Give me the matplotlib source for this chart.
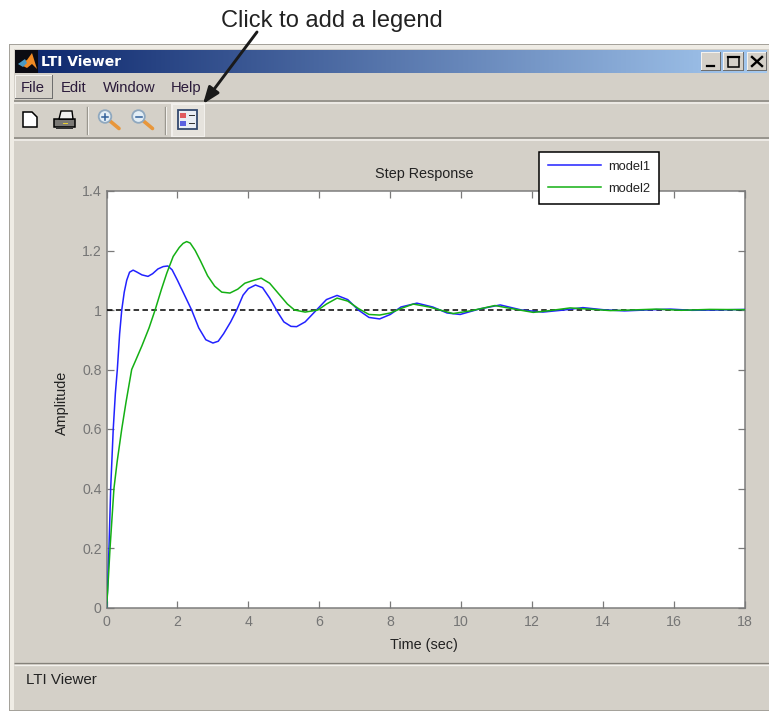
import numpy as np
import matplotlib
matplotlib.use("Agg")
import matplotlib.pyplot as plt
from matplotlib.patches import Rectangle, Polygon, Circle

plt.rcParams['font.family'] = ['Liberation Sans', 'DejaVu Sans']

t_model1 = [0,.03,.07,.118,.19,.25,.305,.37,.43,.5,.57,.65,.75,.85,1.0,1.17,1.3,1.45,1.6,1.73,1.85,2.0,2.2,2.4,2.6,2.8,3.0,3.15,3.3,3.5,3.67,3.85,4.0,4.2,4.4,4.6,4.84,5.0,5.2,5.36,5.6,5.8,5.96,6.2,6.5,6.8,7.1,7.4,7.7,8.0,8.3,8.75,9.2,9.6,9.97,10.5,11.1,11.7,12.3,12.9,13.43,14,14.6,15.2,15.9,16.5,17.2,18]
y_model1 = [0,.06,.2,.4,.6,.72,.8,.92,1.0,1.06,1.10,1.127,1.134,1.128,1.118,1.113,1.122,1.138,1.146,1.148,1.135,1.10,1.05,1.0,.94,.90,.889,.895,.92,.96,1.0,1.05,1.072,1.084,1.075,1.04,.99,.96,.945,.944,.96,.985,1.005,1.035,1.049,1.035,1.0,.975,.97,.985,1.01,1.023,1.01,.99,.985,1.003,1.017,1.0,.993,1.0,1.008,1.001,.997,1.0,1.003,.999,1.0,1.002]
t_model2 = [0,.03,.1,.21,.3,.43,.55,.71,.82,1.0,1.2,1.37,1.55,1.7,1.88,2.05,2.16,2.26,2.36,2.5,2.65,2.85,3.05,3.25,3.48,3.7,3.9,4.1,4.36,4.6,4.85,5.1,5.3,5.6,5.96,6.2,6.5,6.8,7.1,7.4,7.7,8.0,8.3,8.65,9.1,9.77,10.3,10.95,11.5,12.03,12.5,13.07,13.6,14.2,14.8,15.5,16.2,17,18]
y_model2 = [0,.05,.2,.4,.49,.6,.69,.8,.83,.88,.94,1.0,1.07,1.124,1.18,1.21,1.224,1.23,1.225,1.2,1.165,1.115,1.08,1.06,1.057,1.07,1.09,1.098,1.107,1.09,1.055,1.02,1.0,.993,1.0,1.02,1.04,1.03,1.005,.985,.983,.99,1.005,1.02,1.01,.988,.998,1.015,1.003,.992,.998,1.007,1.003,.998,1.0,1.003,.999,1.002,1.001]
t_ref = [0, 18]
y_ref = [1, 1]
x_ticks = [0, 2, 4, 6, 8, 10, 12, 14, 16, 18]
y_ticks = [0, 0.2, 0.4, 0.6, 0.8, 1, 1.2, 1.4]
y_ticklabels = ['0', '0.2', '0.4', '0.6', '0.8', '1', '1.2', '1.4']
series_names = ['model1', 'model2']

W, H = 769, 711
BG = '#d4d0c8'
fig = plt.figure(figsize=(W/100, H/100), dpi=100, facecolor='white')

# window chrome, in pixel coordinates
c = fig.add_axes([0, 0, 1, 1], zorder=0)
c.set_xlim(0, W); c.set_ylim(H, 0); c.axis('off')
def rect(x0, y0, x1, y1, fc, z=1):
    c.add_patch(Rectangle((x0, y0), x1-x0, y1-y0, fc=fc, ec='none', lw=0, zorder=z))
def raised(x0, y0, x1, y1, fc=BG):
    rect(x0, y0, x1, y1, '#6e6e6e', z=2)
    rect(x0, y0, x1-1, y1-1, '#f4f2ee', z=2)
    rect(x0+1, y0+1, x1-1, y1-1, fc, z=2)
def hline(x0, x1, y, col, lw=1.0):
    c.plot([x0, x1], [y, y], color=col, lw=lw*0.72, solid_capstyle='butt', zorder=2)

rect(9, 44, W, 711, '#a5a29b')
rect(10, 45, W, 709.5, '#efece5')
rect(14, 49, W, 709.5, BG)
grad = np.linspace(0, 1, 256)[None, :, None]
cols = np.array([10, 36, 106])/255*(1-grad) + np.array([166, 202, 240])/255*grad
c.imshow(cols, extent=(15, 767, 73, 50), aspect='auto', zorder=1.5, interpolation='bilinear')
c.set_xlim(0, W); c.set_ylim(H, 0)
rect(15, 50, 38, 73, '#0b0b12', z=2)
c.add_patch(Polygon([[19, 64], [27, 60], [32, 53], [37, 69], [32, 64], [27, 68]], fc='#f08a24', ec='none', zorder=3))
c.add_patch(Polygon([[18, 64], [25, 59], [27, 63], [23, 67]], fc='#4a9ac4', ec='none', zorder=3))
c.text(41, 62, 'LTI Viewer', color='white', fontsize=10, fontweight='bold', va='center', family='DejaVu Sans', zorder=4)

raised(701, 52, 721, 71); raised(723, 52, 744, 71); raised(747, 52, 767, 71)
c.plot([707, 714], [66, 66], color='k', lw=1.6, zorder=4)
c.add_patch(Rectangle((727.5, 56.5), 11, 10, fc='none', ec='k', lw=1.1, zorder=4))
c.plot([727.5, 738.5], [57, 57], color='k', lw=1.6, zorder=4)
c.plot([752, 762], [57, 66], color='k', lw=1.7, zorder=4)
c.plot([762, 752], [57, 66], color='k', lw=1.7, zorder=4)

raised(15, 75, 53, 99)
for label, x in zip(['File', 'Edit', 'Window', 'Help'], [21, 61, 103, 171]):
    c.text(x, 92, label, fontsize=10.6, va='baseline', color='#2a1a3a', zorder=4)
hline(14, W, 101, '#85827b', 1.5); hline(14, W, 103, '#f4f2ee', 1.5)
hline(14, W, 137.5, '#85827b', 1.5); hline(14, W, 139.5, '#f4f2ee', 1.5)
hline(14, W, 663, '#85827b', 1.3); hline(14, W, 665, '#f4f2ee', 1.3)
c.text(26, 684, 'LTI Viewer', fontsize=10.9, va='baseline', color='#222222', zorder=4)

# toolbar icons
c.add_patch(Polygon([[23, 112], [32, 112], [37, 117], [37, 127], [23, 127]], fc='white', ec='k', lw=1.1, zorder=4))
c.add_patch(Rectangle((53.5, 119), 21, 8, fc='#7b7975', ec='k', lw=1.1, zorder=4))
c.add_patch(Polygon([[59, 119], [61, 111], [72, 111], [73, 119]], fc='#f0f0f0', ec='k', lw=1.0, zorder=4))
c.add_patch(Rectangle((56, 127), 17, 2, fc='#333333', ec='none', zorder=4))
c.add_patch(Rectangle((63, 122.5), 5, 1.6, fc='#e8d030', ec='none', zorder=5))
for x in (87, 165):
    c.plot([x, x], [107, 134], color='#9a978f', lw=1.0, zorder=3)
    c.plot([x+1.2, x+1.2], [107, 134], color='#f4f2ee', lw=0.7, zorder=3)
for cx, sign in ((105, True), (138.5, False)):
    c.plot([cx+5, cx+14], [121, 128.5], color='#e8963a', lw=2.6, solid_capstyle='round', zorder=4)
    c.add_patch(Circle((cx, 116.5), 6.3, fc='#e3eef6', ec='#8fa8bf', lw=1.3, zorder=5))
    c.plot([cx-3, cx+3], [116.5, 116.5], color='#2f5f9a', lw=1.1, zorder=6)
    if sign:
        c.plot([cx, cx], [113.5, 119.5], color='#2f5f9a', lw=1.1, zorder=6)
rect(171, 103, 205, 137, '#f2f0ec', z=2)
rect(173, 105, 204, 136, '#e6e3dd', z=2)
c.add_patch(Rectangle((177.5, 109.5), 19.5, 19.5, fc='#e9edf4', ec='#33486e', lw=1.3, zorder=4))
rect(180, 113, 186, 118, '#e05a60', z=5); rect(180, 121, 186, 126, '#5a60e0', z=5)
rect(189, 115, 195, 116, '#333333', z=5); rect(189, 123, 195, 124, '#333333', z=5)

# plot
L, R, T, B = 106.5, 745.0, 191.0, 607.5
ax = fig.add_axes([L/W, 1-B/H, (R-L)/W, (B-T)/H], zorder=2)
ax.set_facecolor('white')
ax.plot(t_ref, y_ref, color='k', lw=1.1, ls=(0, (3.6, 2.2)), zorder=2)
l1, = ax.plot(t_model1, y_model1, color='#2222ff', lw=1.1, label=series_names[0], zorder=3)
l2, = ax.plot(t_model2, y_model2, color='#14b014', lw=1.1, label=series_names[1], zorder=3)
ax.set_xlim(0, 18); ax.set_ylim(0, 1.4)
ax.set_xticks(x_ticks); ax.set_yticks(y_ticks); ax.set_yticklabels(y_ticklabels)
ax.tick_params(direction='in', length=5, width=0.9, color='#7a7a7a', labelcolor='#757575',
               labelsize=10.2, top=True, right=True)
ax.tick_params(axis='x', pad=5.5)
ax.tick_params(axis='y', pad=3.5)
for s in ax.spines.values():
    s.set_color('#7d7d7d'); s.set_linewidth(1.1); s.set_zorder(1)
ax.patch.set_zorder(0)
fig.text(424/W, 1-645.5/H, 'Time (sec)', fontsize=10.4, color='#222222', ha='center', va='center', zorder=6)
fig.text(62/W, 1-403/H, 'Amplitude', fontsize=10.4, color='#222222', ha='center', va='center', rotation=90, zorder=6)
fig.text(424.5/W, 1-174/H, 'Step Response', fontsize=10.4, color='#222222', ha='center', va='center', zorder=6)
leg = ax.legend(handles=[l1, l2], loc='upper left',
                bbox_to_anchor=(538.5/W, 1-151.5/H), bbox_transform=fig.transFigure,
                fontsize=9.3, frameon=True, fancybox=False, framealpha=1, edgecolor='k',
                handlelength=4.15, handletextpad=0.55, labelspacing=0.8,
                borderpad=0.7, borderaxespad=0, labelcolor='#222222')
leg.get_frame().set_linewidth(1.1)
leg.set_zorder(10)

# callout
fig.text(332/W, 1-20.5/H, 'Click to add a legend', fontsize=17, ha='center', va='center', color='#222222')
top = fig.add_axes([0, 0, 1, 1], zorder=5)
top.set_xlim(0, W); top.set_ylim(H, 0); top.axis('off'); top.patch.set_alpha(0)
top.annotate('', xy=(203, 104), xytext=(257, 32),
             arrowprops=dict(arrowstyle='-|>,head_length=1.0,head_width=0.38', color='#1a1a1a', lw=2.1, shrinkA=0, shrinkB=0))

fig.savefig('out.png', dpi=100, facecolor='white')
